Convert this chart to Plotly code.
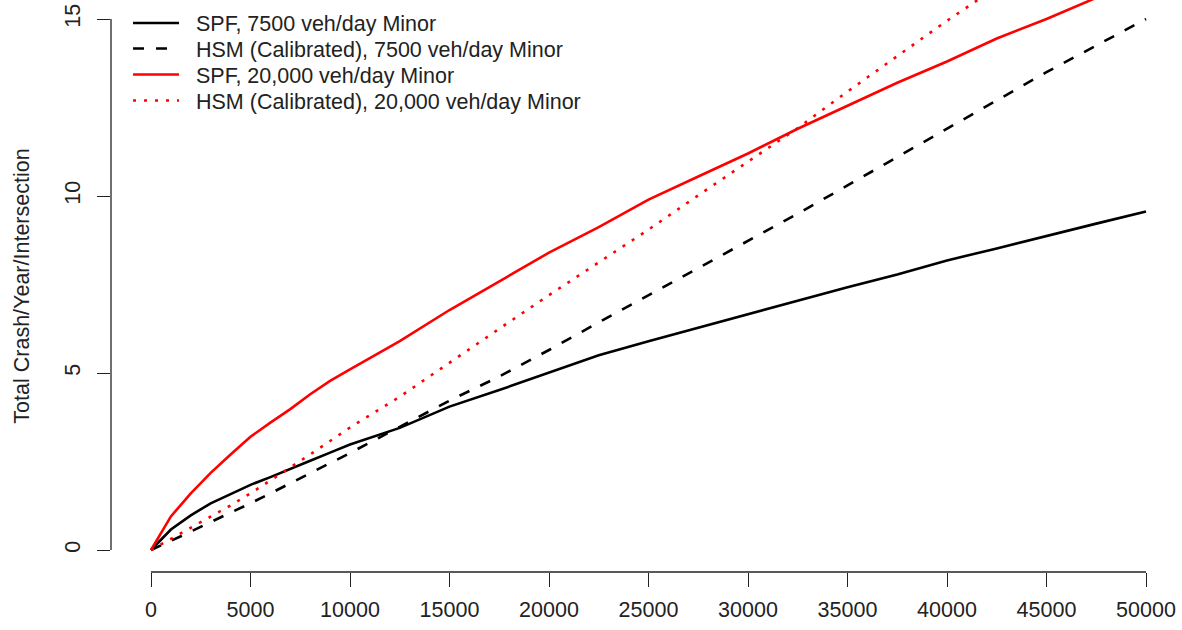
import plotly.graph_objects as go

# Major-road AADT (veh/day) at which each model was evaluated
aadt_major = [0, 1000, 2000, 3000, 4000, 5000, 6000, 7000, 8000, 9000, 10000,
              12500, 15000, 17500, 20000, 22500, 25000, 27500, 30000, 32500,
              35000, 37500, 40000, 42500, 45000, 47500, 50000]

# Predicted total crashes per year per intersection
spf_7500 = [0, 0.58, 0.98, 1.32, 1.58, 1.84, 2.06, 2.28, 2.52, 2.75, 2.98,
            3.45, 4.05, 4.52, 5.0, 5.5, 5.9, 6.28, 6.68, 7.05,
            7.42, 7.78, 8.18, 8.52, 8.88, 9.22, 9.56]
hsm_7500 = [0, 0.25, 0.52, 0.79, 1.05, 1.32, 1.6, 1.88, 2.16, 2.44, 2.74,
            3.48, 4.22, 4.9, 5.65, 6.43, 7.2, 7.98, 8.75, 9.5,
            10.3, 11.1, 11.92, 12.72, 13.5, 14.25, 15.0]
spf_20000 = [0, 0.95, 1.6, 2.18, 2.7, 3.2, 3.6, 3.98, 4.4, 4.78, 5.1,
             5.9, 6.78, 7.6, 8.4, 9.12, 9.9, 10.55, 11.2, 11.9,
             12.55, 13.2, 13.8, 14.45, 15.0, 15.6, 16.15]
hsm_20000 = [0, 0.31, 0.63, 0.95, 1.26, 1.6, 1.96, 2.32, 2.7, 3.08, 3.46,
             4.33, 5.3, 6.25, 7.2, 8.12, 9.05, 10.02, 10.98, 11.92,
             12.95, 13.95, 14.95, 15.9, 16.9, 17.9, 18.9]

series_names = ["SPF, 7500 veh/day Minor",
                "HSM (Calibrated), 7500 veh/day Minor",
                "SPF, 20,000 veh/day Minor",
                "HSM (Calibrated), 20,000 veh/day Minor"]

x_ticks = [0, 5000, 10000, 15000, 20000, 25000, 30000, 35000, 40000, 45000, 50000]
y_ticks = [0, 5, 10, 15]

FONT = "Liberation Sans, Arial, sans-serif"
INK = "#222222"
FS = 21.5
GAP = "\u00a0\u00a0"  # extra space between legend key and label

styles = [
    dict(color="black", dash="solid"),
    dict(color="black", dash="11px,12px"),
    dict(color="red", dash="solid"),
    dict(color="red", dash="3px,8px"),
]
values = [spf_7500, hsm_7500, spf_20000, hsm_20000]
legend_ids = ["legend", "legend2", "legend3", "legend4"]
legend_rows = [23, 48.5, 74.5, 100.5]

fig = go.Figure()
for name, ys, st, lid in zip(series_names, values, styles, legend_ids):
    fig.add_trace(go.Scatter(
        x=aadt_major, y=ys, mode="lines", name=GAP + name, legend=lid,
        line=dict(color=st["color"], dash=st["dash"], width=2.6),
    ))

W, H = 1182, 630
ML, MR, MT, MB = 111, 0, 0, 58
plot_h = H - MT - MB

layout_legends = {}
for lid, row in zip(legend_ids, legend_rows):
    layout_legends[lid] = dict(
        x=0.0159, xanchor="left", y=1 - row / plot_h, yanchor="middle",
        bgcolor="rgba(0,0,0,0)", borderwidth=0, itemwidth=46,
        font=dict(family=FONT, size=FS, color=INK),
    )

fig.update_layout(
    width=W, height=H,
    margin=dict(l=ML, r=MR, t=MT, b=MB, pad=0),
    plot_bgcolor="white", paper_bgcolor="white",
    font=dict(family=FONT, size=FS, color=INK),
    showlegend=True,
    **layout_legends,
)

fig.update_xaxes(
    range=[-2010, 51809], showgrid=False, zeroline=False, showline=False,
    tickmode="array", tickvals=x_ticks, ticktext=[str(v) for v in x_ticks],
    ticks="outside", ticklen=14, tickwidth=1.3, tickcolor=INK,
    tickfont=dict(family=FONT, size=FS, color=INK), ticklabelstandoff=4,
)
fig.update_yaxes(
    range=[-0.621, 15.537], showgrid=False, zeroline=False, showline=False,
    tickmode="array", tickvals=y_ticks, ticktext=[str(v) for v in y_ticks],
    ticks="outside", ticklen=13, tickwidth=1.3, tickcolor=INK, tickangle=-90,
    tickfont=dict(family=FONT, size=FS, color=INK), ticklabelstandoff=8,
    title=dict(text="Total Crash/Year/Intersection", standoff=25,
               font=dict(family=FONT, size=FS, color=INK)),
)

# Axis lines span only the tick range
fig.add_shape(type="line", xref="x", yref="paper",
              x0=min(x_ticks), x1=max(x_ticks), y0=0, y1=0,
              line=dict(color=INK, width=1.3))
fig.add_shape(type="line", xref="paper", yref="y",
              x0=0, x1=0, y0=min(y_ticks), y1=max(y_ticks),
              line=dict(color=INK, width=1.3))

fig.write_html("out.html")
